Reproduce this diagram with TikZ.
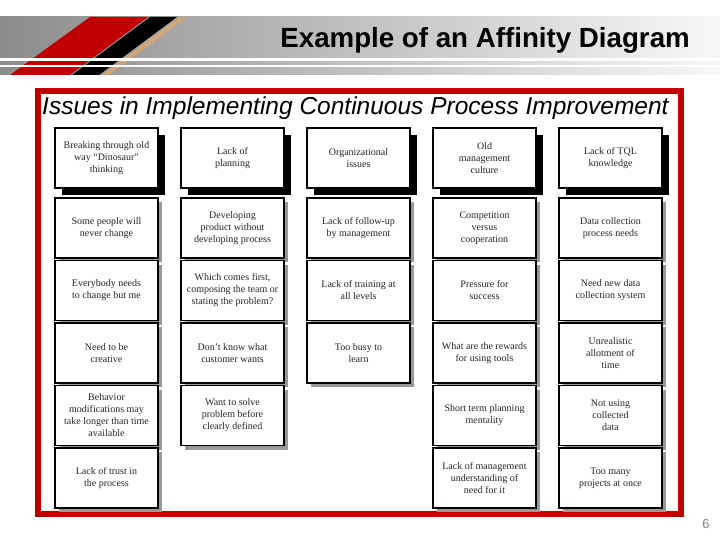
\documentclass[tikz,border=0pt]{standalone}
\usepackage{fontspec}
\setmainfont{Liberation Serif}
\newfontfamily\headfont{Liberation Sans}
\usepackage{tikz}
\usetikzlibrary{positioning,shadows}
\definecolor{slidered}{HTML}{C00000}
\definecolor{stripetan}{HTML}{D2A679}
\definecolor{bandgray}{HTML}{8C8C8C}
\definecolor{shadowgray}{HTML}{999999}

\begin{document}
\begin{tikzpicture}[
  x=1pt, y=-1pt,
  node distance=2.5pt and 23pt,
  card/.style={draw, line width=1.8pt, fill=white, outer sep=0pt, minimum width=103pt, minimum height=60pt, align=center, inner sep=2pt, font=\fontsize{10}{12}\selectfont, text=black!85},
  topcard/.style={card, drop shadow={shadow xshift=7pt, shadow yshift=-7pt, fill=black, opacity=1}},
  lowcard/.style={card, drop shadow={shadow xshift=4pt, shadow yshift=-4pt, fill=shadowgray, opacity=1}}
]
\useasboundingbox (0,0) rectangle (720,540);
% header band
\shade[left color=bandgray, right color=white!97!black] (0,17) rectangle (720,75);
\fill[slidered] (90,17) -- (148,17) -- (70,75) -- (10,75) -- cycle;
\fill[black] (150,17) -- (177,17) -- (99,75) -- (72,75) -- cycle;
\fill[stripetan] (180,17) -- (187,17) -- (109,75) -- (102,75) -- cycle;
\fill[white] (0,58.5) rectangle (720,61);
\fill[white] (0,65.5) rectangle (720,67.5);
\node[anchor=base east, inner sep=0pt, font=\headfont\bfseries\fontsize{27.7}{30}\selectfont] (title) at (690,48) {Example of an Affinity Diagram};
% frame
\draw[slidered, line width=6pt] (38,91) rectangle (681,514);
\node[anchor=base west, inner sep=0pt, font=\headfont\itshape\fontsize{24.5}{28}\selectfont] (heading) at (42,114.5) {Issues in Implementing Continuous Process Improvement};
% column 1
\node[topcard] (a1) at (106.5,158) {Breaking through old\\way “Dinosaur”\\thinking};
\node[lowcard, below=10pt of a1] (a2) {Some people will\\never change};
\node[lowcard, below=of a2] (a3) {Everybody needs\\to change but me};
\node[lowcard, below=of a3] (a4) {Need to be\\creative};
\node[lowcard, below=of a4] (a5) {Behavior\\modifications may\\take longer than time\\available};
\node[lowcard, below=of a5] (a6) {Lack of trust in\\the process};
% column 2
\node[topcard, right=of a1] (b1) {Lack of\\planning};
\node[lowcard, below=10pt of b1] (b2) {Developing\\product without\\developing process};
\node[lowcard, below=of b2] (b3) {Which comes first,\\composing the team or\\stating the problem?};
\node[lowcard, below=of b3] (b4) {Don’t know what\\customer wants};
\node[lowcard, below=of b4] (b5) {Want to solve\\problem before\\clearly defined};
% column 3
\node[topcard, right=of b1] (c1) {Organizational\\issues};
\node[lowcard, below=10pt of c1] (c2) {Lack of follow-up\\by management};
\node[lowcard, below=of c2] (c3) {Lack of training at\\all levels};
\node[lowcard, below=of c3] (c4) {Too busy to\\learn};
% column 4
\node[topcard, right=of c1] (d1) {Old\\management\\culture};
\node[lowcard, below=10pt of d1] (d2) {Competition\\versus\\cooperation};
\node[lowcard, below=of d2] (d3) {Pressure for\\success};
\node[lowcard, below=of d3] (d4) {What are the rewards\\for using tools};
\node[lowcard, below=of d4] (d5) {Short term planning\\mentality};
\node[lowcard, below=of d5] (d6) {Lack of management\\understanding of\\need for it};
% column 5
\node[topcard, right=of d1] (e1) {Lack of TQL\\knowledge};
\node[lowcard, below=10pt of e1] (e2) {Data collection\\process needs};
\node[lowcard, below=of e2] (e3) {Need new data\\collection system};
\node[lowcard, below=of e3] (e4) {Unrealistic\\allotment of\\time};
\node[lowcard, below=of e4] (e5) {Not using\\collected\\data};
\node[lowcard, below=of e5] (e6) {Too many\\projects at once};
% page number
\node[text=gray, font=\headfont\fontsize{13}{14}\selectfont] (pagenum) at (706,524) {6};
\end{tikzpicture}
\end{document}
